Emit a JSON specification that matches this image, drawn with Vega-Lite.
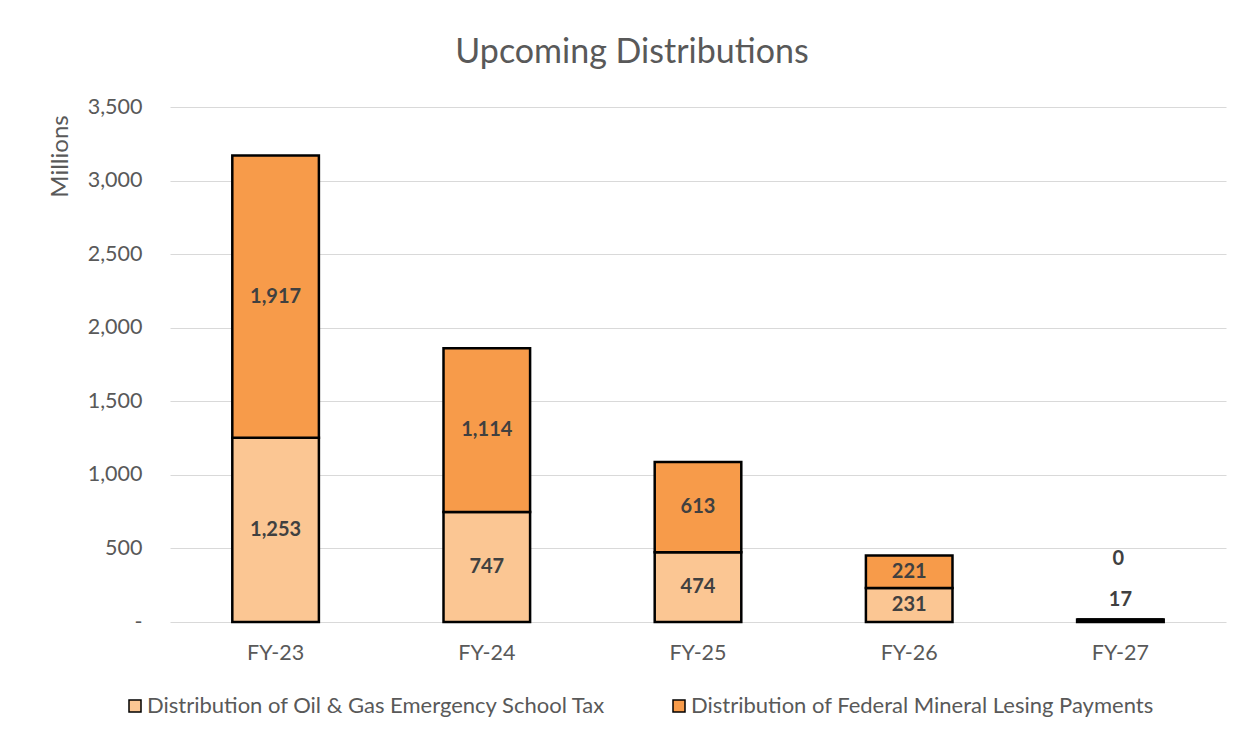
{
  "$schema": "https://vega.github.io/schema/vega-lite/v6.json",
  "width": 1056,
  "height": 515,
  "autosize": {"type": "none"},
  "padding": {"left": 170, "top": 107, "right": 29, "bottom": 118},
  "background": "white",
  "config": {
    "font": "Lato",
    "view": {"stroke": null},
    "axis": {"labelColor": "#595959", "titleColor": "#595959", "labelFont": "Lato", "titleFont": "Lato"}
  },
  "title": {
    "text": "Upcoming Distributions",
    "fontSize": 34,
    "fontWeight": "normal",
    "color": "#595959",
    "font": "Lato",
    "anchor": "middle",
    "dx": -66,
    "offset": 26
  },
  "data": {
    "values": [
      {"year": "FY-23", "series": "Distribution of Oil & Gas Emergency School Tax", "value": 1253},
      {"year": "FY-23", "series": "Distribution of Federal Mineral Lesing Payments", "value": 1917},
      {"year": "FY-24", "series": "Distribution of Oil & Gas Emergency School Tax", "value": 747},
      {"year": "FY-24", "series": "Distribution of Federal Mineral Lesing Payments", "value": 1114},
      {"year": "FY-25", "series": "Distribution of Oil & Gas Emergency School Tax", "value": 474},
      {"year": "FY-25", "series": "Distribution of Federal Mineral Lesing Payments", "value": 613},
      {"year": "FY-26", "series": "Distribution of Oil & Gas Emergency School Tax", "value": 231},
      {"year": "FY-26", "series": "Distribution of Federal Mineral Lesing Payments", "value": 221},
      {"year": "FY-27", "series": "Distribution of Oil & Gas Emergency School Tax", "value": 17},
      {"year": "FY-27", "series": "Distribution of Federal Mineral Lesing Payments", "value": 0}
    ]
  },
  "transform": [
    {"calculate": "datum.series == 'Distribution of Oil & Gas Emergency School Tax' ? 0 : 1", "as": "stackRank"},
    {"stack": "value", "groupby": ["year"], "sort": [{"field": "stackRank", "order": "ascending"}], "as": ["v0", "v1"]},
    {"calculate": "(datum.v0 + datum.v1) / 2", "as": "mid"}
  ],
  "encoding": {
    "x": {
      "field": "year",
      "type": "nominal",
      "title": null,
      "scale": {"paddingInner": 0.59, "paddingOuter": 0.295},
      "axis": {"labelAngle": 0, "labelFontSize": 21.5, "labelPadding": 20, "ticks": false, "domain": false}
    }
  },
  "layer": [
    {
      "mark": {"type": "bar", "stroke": "#000000", "strokeWidth": 2.5},
      "encoding": {
        "y": {
          "field": "v1",
          "type": "quantitative",
          "scale": {"domain": [0, 3500]},
          "title": "Millions",
          "axis": {
            "values": [0, 500, 1000, 1500, 2000, 2500, 3000, 3500],
            "labelExpr": "datum.value == 0 ? '-' : format(datum.value, ',')",
            "labelFontSize": 21.5,
            "labelPadding": 28,
            "ticks": false,
            "domain": false,
            "gridColor": "#d9d9d9",
            "gridWidth": 1.2,
            "titleFontSize": 24,
            "titleFontWeight": "normal",
            "titleAngle": 270,
            "titleX": -110,
            "titleY": 49,
            "titleAlign": "center",
            "titleBaseline": "middle"
          }
        },
        "y2": {"field": "v0"},
        "color": {
          "field": "series",
          "type": "nominal",
          "scale": {
            "domain": ["Distribution of Oil & Gas Emergency School Tax", "Distribution of Federal Mineral Lesing Payments"],
            "range": ["#FBC693", "#F79B4A"]
          },
          "legend": {
            "title": null,
            "orient": "none",
            "legendX": -46,
            "legendY": 588,
            "direction": "horizontal",
            "columns": 2,
            "columnPadding": 62,
            "symbolType": "square",
            "symbolSize": 144,
            "symbolStrokeColor": "#000000",
            "symbolStrokeWidth": 1.5,
            "symbolOpacity": 1,
            "labelFontSize": 22,
            "labelColor": "#595959",
            "labelFont": "Lato",
            "labelOffset": 1,
            "labelLimit": 600
          }
        }
      }
    },
    {
      "transform": [{"filter": "datum.year != 'FY-27'"}],
      "mark": {"type": "text", "fontSize": 20, "fontWeight": "bold", "color": "#404040", "baseline": "middle"},
      "encoding": {
        "y": {"field": "mid", "type": "quantitative"},
        "text": {"field": "value", "type": "quantitative", "format": ","}
      }
    },
    {
      "transform": [{"filter": "datum.year == 'FY-27' && datum.value > 0"}],
      "mark": {"type": "text", "fontSize": 20, "fontWeight": "bold", "color": "#404040", "baseline": "middle", "dy": -21},
      "encoding": {
        "y": {"field": "mid", "type": "quantitative"},
        "text": {"field": "value", "type": "quantitative", "format": ","}
      }
    },
    {
      "transform": [{"filter": "datum.year == 'FY-27' && datum.value == 0"}],
      "mark": {"type": "text", "fontSize": 20, "fontWeight": "bold", "color": "#404040", "baseline": "middle", "dy": -60, "dx": -2},
      "encoding": {
        "y": {"field": "mid", "type": "quantitative"},
        "text": {"field": "value", "type": "quantitative", "format": ","}
      }
    }
  ]
}
